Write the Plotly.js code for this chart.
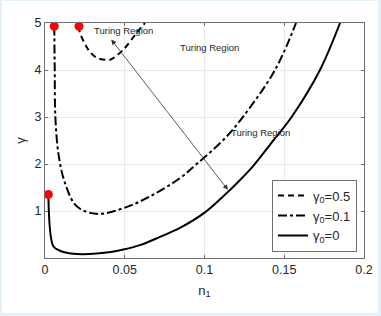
<!DOCTYPE html>
<html>
<head>
<meta charset="utf-8">
<script src="https://cdn.plot.ly/plotly-3.0.1.min.js"></script>
<style>
  html, body { margin: 0; padding: 0; background: #ffffff; }
  #wrap { position: relative; width: 381px; height: 316px; }
  #chart { position: absolute; left: 0; top: 0; width: 381px; height: 316px; }
  #frame { position: absolute; left: 0; top: 0; width: 381px; height: 316px; box-sizing: border-box;
           border-left: 2px solid #e4f1f9; border-right: 3px solid #e4f1f9; border-bottom: 3px solid #e4f1f9; border-top: 1px solid #e4f1f9;
           pointer-events: none; }
</style>
</head>
<body>
<div id="wrap"><div id="chart"></div><div id="frame"></div></div>
<script>
// gamma0 = 0.5 (dashed)
const n1_g05 = [0.0213, 0.0219, 0.0272, 0.0324, 0.0408, 0.0490, 0.0575, 0.0627];
const gam_g05 = [4.93, 4.79, 4.43, 4.26, 4.22, 4.43, 4.79, 5.00];
// gamma0 = 0.1 (dash-dot)
const n1_g01 = [0.0058, 0.0061, 0.0065, 0.0085, 0.0125, 0.0199, 0.0324, 0.0491, 0.0658, 0.0846, 0.0951, 0.1129, 0.1245, 0.1442, 0.1574];
const gam_g01 = [4.93, 4.00, 3.00, 2.20, 1.60, 1.10, 0.94, 1.06, 1.31, 1.70, 2.00, 2.55, 3.02, 4.00, 5.00];
// gamma0 = 0 (solid)
const n1_g0 = [0.0021, 0.0052, 0.0094, 0.0177, 0.0282, 0.0400, 0.0491, 0.0600, 0.0721, 0.0846, 0.1003, 0.1139, 0.1223, 0.1306, 0.1420, 0.1546, 0.1724, 0.1850];
const gam_g0 = [1.35, 0.25, 0.155, 0.09, 0.085, 0.12, 0.18, 0.28, 0.45, 0.64, 0.97, 1.38, 1.66, 1.96, 2.45, 3.00, 4.00, 5.00];
// red end points
const dot_n1 = [0.0021, 0.0058, 0.0213];
const dot_gam = [1.35, 4.93, 4.93];
// labels
const legendNames = ['\u03b3<sub>0</sub>=0.5', '\u03b3<sub>0</sub>=0.1', '\u03b3<sub>0</sub>=0'];
const regionLabel = 'Turing Region';
const regionPos_n1 = [0.0489, 0.1034, 0.1348];
const regionPos_gam = [4.84, 4.47, 2.66];
const arrowFrom = [0.0408, 4.68];
const arrowTo = [0.1147, 1.45];
const xTicks = [0, 0.05, 0.1, 0.15, 0.2];
const xTickText = ['0', '0.05', '0.1', '0.15', '0.2'];
const yTicks = [1, 2, 3, 4, 5];

const FONT = 'Liberation Sans, Arial, sans-serif';
const TXT = '#262626';

const traces = [
  {x: n1_g05, y: gam_g05, mode: 'lines', name: legendNames[0], line: {color: '#000', width: 2, dash: '6px,4px', shape: 'spline', smoothing: 0.8}},
  {x: n1_g01, y: gam_g01, mode: 'lines', name: legendNames[1], line: {color: '#000', width: 2, dash: 'dashdot', shape: 'spline', smoothing: 1.0}},
  {x: n1_g0, y: gam_g0, mode: 'lines', name: legendNames[2], line: {color: '#000', width: 2, shape: 'spline', smoothing: 0.9}},
  {x: dot_n1, y: dot_gam, mode: 'markers', showlegend: false, marker: {color: '#ff0000', size: 9}, cliponaxis: false}
];

const annotations = regionPos_n1.map((xv, i) => ({
  x: xv, y: regionPos_gam[i], xref: 'x', yref: 'y', text: regionLabel, showarrow: false,
  font: {family: FONT, size: 9.5, color: TXT}
}));
annotations.push({
  x: arrowTo[0], y: arrowTo[1], ax: arrowFrom[0], ay: arrowFrom[1], xref: 'x', yref: 'y', axref: 'x', ayref: 'y',
  text: '', showarrow: true, arrowside: 'end+start', arrowhead: 2, startarrowhead: 2, arrowsize: 1.3, startarrowsize: 1.3,
  arrowwidth: 0.8, arrowcolor: '#333'
});

const axisCommon = {
  showline: true, linecolor: '#707070', linewidth: 1, mirror: 'ticks', ticks: 'inside', ticklen: 3, tickcolor: '#707070',
  showgrid: true, gridcolor: '#e8e8e8', gridwidth: 1, zeroline: false,
  tickfont: {family: FONT, size: 12.5, color: TXT}
};

const layout = {
  width: 381, height: 316,
  margin: {l: 45, r: 17, t: 23, b: 58},
  paper_bgcolor: '#ffffff', plot_bgcolor: '#ffffff',
  font: {family: FONT, color: TXT},
  xaxis: Object.assign({}, axisCommon, {
    range: [0, 0.2], tickvals: xTicks, ticktext: xTickText,
    title: {text: 'n<sub>1</sub>', font: {family: FONT, size: 13, color: TXT}, standoff: 9}
  }),
  yaxis: Object.assign({}, axisCommon, {
    range: [0, 5], tickvals: yTicks,
    title: {text: '\u03b3', font: {family: FONT, size: 13, color: TXT}, standoff: 5}
  }),
  showlegend: true,
  legend: {
    x: 0.978, y: 0.027, xanchor: 'right', yanchor: 'bottom',
    bgcolor: '#ffffff', bordercolor: '#707070', borderwidth: 1,
    font: {family: FONT, size: 13, color: TXT}, itemwidth: 30, tracegroupgap: 0
  },
  annotations: annotations
};

Plotly.newPlot('chart', traces, layout, {displayModeBar: false, staticPlot: true});
</script>
</body>
</html>
